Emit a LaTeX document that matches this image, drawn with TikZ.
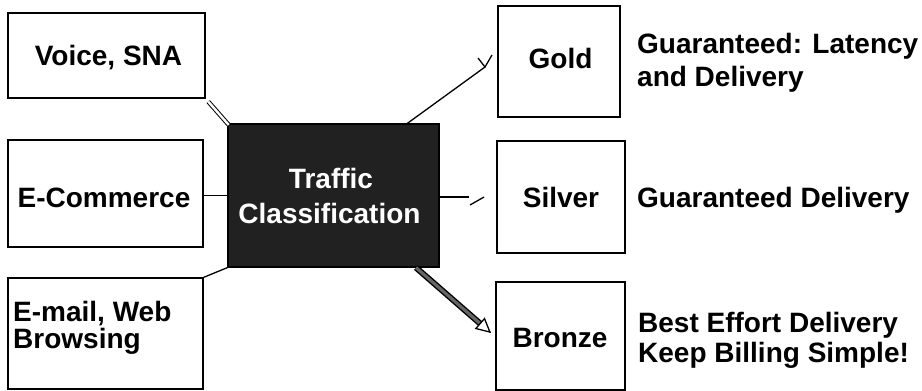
\documentclass[tikz,border=0pt]{standalone}
\usepackage{fontspec}
\setmainfont{Liberation Sans}
\usetikzlibrary{calc,arrows.meta}
\begin{document}
\begin{tikzpicture}[x=1pt,y=-1pt,
  box/.style={draw=black, line width=1.2pt, fill=white, rectangle, inner sep=0pt},
  hub/.style={draw=black, line width=1.2pt, fill=black!87, rectangle, inner sep=0pt},
  lbl/.style={font=\fontsize{28}{33}\selectfont\bfseries, inner sep=0pt},
  link/.style={line width=1.3pt},
  hollow/.style={double=white, double distance=2.4pt, line width=1pt},
  fat/.style={double=black!60, double distance=3.2pt, line width=1.4pt},
]
\useasboundingbox (0,0) rectangle (922,391);

% source boxes
\node[box, minimum width=197pt, minimum height=85pt]  (voice) at (106.5,55.5) {};
\node[box, minimum width=195pt, minimum height=107pt] (ecom)  at (105.5,193.5) {};
\node[box, minimum width=195pt, minimum height=111pt] (email) at (105.5,333.5) {};

% classifier
\node[hub, minimum width=211pt, minimum height=143pt] (tc) at (333.5,195.5) {};

% service classes
\node[box, minimum width=122pt, minimum height=111pt] (gold)   at (559,61.5) {};
\node[box, minimum width=128pt, minimum height=112pt] (silver) at (561,197) {};
\node[box, minimum width=129pt, minimum height=108pt] (bronze) at (560.5,336) {};

% labels
\node[lbl, anchor=base] (tvoice) at (108.5,65) {Voice, SNA};
\node[lbl, anchor=base] (tecom)  at (104,207) {E-Commerce};
\node[lbl, anchor=base west] (tmail1) at (13,321) {E-mail, Web};
\node[lbl, anchor=base west] (tmail2) at (13,348) {Browsing};

\node[lbl, anchor=base, text=white] (ttc1) at (331,188) {Traffic};
\node[lbl, anchor=base, text=white] (ttc2) at (329.5,223) {Classification};

\node[lbl, anchor=base] (tgold)   at (560.5,68) {Gold};
\node[lbl, anchor=base] (tsilver) at (561,207) {Silver};
\node[lbl, anchor=base] (tbronze) at (560,347) {Bronze};

\node[lbl, anchor=base west] (dg1) at (637,53) {Guaranteed: Latency};
\node[lbl, anchor=base west] (dg2) at (637,86) {and Delivery};
\node[lbl, anchor=base west] (ds)  at (637,207) {Guaranteed Delivery};
\node[lbl, anchor=base west] (db1) at (638,332) {Best Effort Delivery};
\node[lbl, anchor=base west] (db2) at (638,362) {Keep Billing Simple!};

% inputs to the classifier
\draw[hollow, shorten <=4pt, shorten >=-2pt] (voice.south east) -- (tc.north west);
\draw[link] (tc.west) -- (tc.west -| ecom.east);
\draw[link] (email.north east) -- (tc.south west);

% classifier to gold
\coordinate (gtip) at (485,67);
\draw[link] ($(tc.north west)!0.848!(tc.north east)$) -- (gtip);
\draw[link] (gtip) ++(-7,-9) -- (gtip) -- ++(7,-12);

% classifier to silver
\coordinate (stip) at (469,197);
\draw[link] (tc.east |- stip) -- (stip);
\draw[link] (stip) ++(1,8) -- ++(14,-8);

% classifier to bronze
\coordinate (btip) at (491,333);
\draw[fat, shorten >=13pt] (tc) -- (btip);
\draw[line width=1.3pt, -{Triangle[length=15pt, width=15pt, fill=white]}]
  ($(btip)!1pt!(tc)$) -- (btip);
\end{tikzpicture}
\end{document}
